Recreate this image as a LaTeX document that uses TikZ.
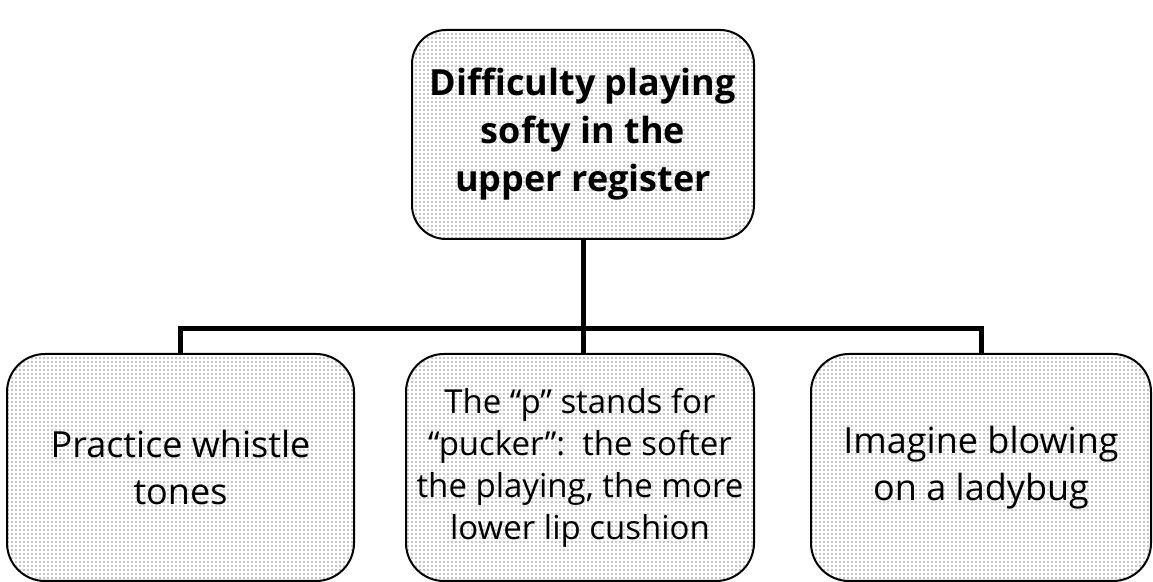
\documentclass[tikz,border=0pt]{standalone}
\usepackage{fontspec}
\setmainfont{Open Sans}
\usetikzlibrary{patterns.meta}

\tikzset{
  box/.style={draw, line width=1pt, rounded corners=19pt,
    pattern={Dots[radius=0.35pt,distance=2pt]},
    align=center, inner sep=0pt},
  link/.style={line width=2.5pt},
}

\begin{document}
\begin{tikzpicture}[x=0.5pt, y=-0.5pt]
  \useasboundingbox (0,0) rectangle (1153,582);

  % problem at the top
  \node[box, rounded corners=17pt, minimum width=171pt, minimum height=104.5pt,
        font=\bfseries\fontsize{18}{24}\selectfont] (top) at (583,134.5)
    {Difficulty playing\\softy in the\\upper register};

  % three remedies below
  \node[box, minimum width=173.5pt, minimum height=113.5pt,
        font=\fontsize{18}{23.5}\selectfont] (left) at (180.5,467.5)
    {Practice whistle\\tones};
  \node[box, minimum width=174pt, minimum height=113.5pt,
        font=\fontsize{16.5}{21}\selectfont] (mid) at (580,467.5)
    {The ``p'' stands for\\``pucker'':\ \ the softer\\the playing, the more\\lower lip cushion};
  \node[box, minimum width=170pt, minimum height=113.5pt,
        font=\fontsize{18}{23.5}\selectfont] (right) at (981,467.5)
    {Imagine blowing\\on a ladybug};

  \coordinate (bar) at (583,329);

  \draw[link] (top.south) -- (top.south |- mid.north);
  \draw[link] (left.north) |- (bar) -| (right.north);
\end{tikzpicture}
\end{document}
